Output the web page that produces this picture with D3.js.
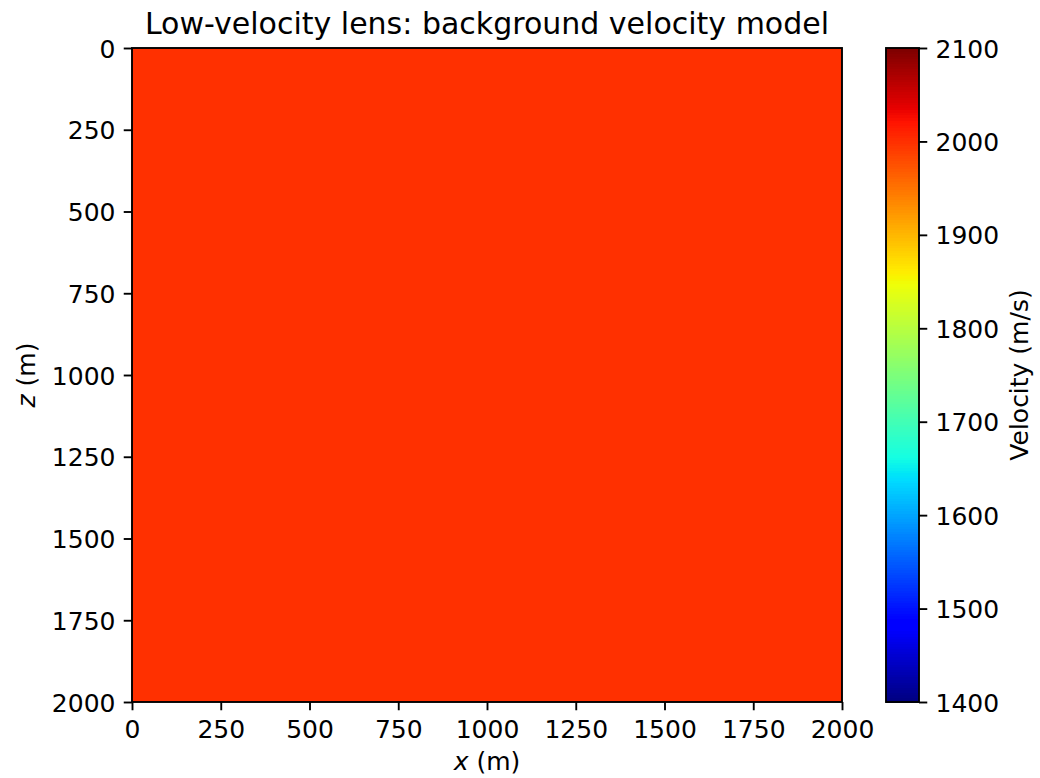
<!DOCTYPE html>
<html>
<head>
<meta charset="utf-8">
<script src="https://cdn.jsdelivr.net/npm/d3@7"></script>
<style>
  html, body { margin: 0; padding: 0; background: #fff; }
  svg text { font-family: "DejaVu Sans", sans-serif; fill: #000; }
</style>
</head>
<body>
<svg id="chart" width="1040" height="778"></svg>
<script>
// model extent (m) and velocity grid (m/s): uniform background
const xExtent = [0, 2000];
const zExtent = [0, 2000];
const xEdges = [0, 2000];
const zEdges = [0, 2000];
const velocityGrid = [[2000]];

const xTicks = [0, 250, 500, 750, 1000, 1250, 1500, 1750, 2000];
const zTicks = [0, 250, 500, 750, 1000, 1250, 1500, 1750, 2000];
const cbTicks = [1400, 1500, 1600, 1700, 1800, 1900, 2000, 2100];
const vRange = [1400, 2100];

const TITLE = "Low-velocity lens: background velocity model";

// matplotlib "jet" segment data
const jetR = [[0, 0], [0.35, 0], [0.66, 1], [0.89, 1], [1, 0.5]];
const jetG = [[0, 0], [0.125, 0], [0.375, 1], [0.64, 1], [0.91, 0], [1, 0]];
const jetB = [[0, 0.5], [0.11, 1], [0.34, 1], [0.65, 0], [1, 0]];

function seg(s) {
  return d3.scaleLinear().domain(s.map((d) => d[0])).range(s.map((d) => d[1])).clamp(true);
}
const sr = seg(jetR), sg = seg(jetG), sb = seg(jetB);

function jet(t) {
  // 256-level lookup like matplotlib
  const i = Math.max(0, Math.min(255, Math.floor(t * 256)));
  const u = i / 255;
  return d3.rgb(Math.round(sr(u) * 255), Math.round(sg(u) * 255), Math.round(sb(u) * 255)).formatHex();
}

const svg = d3.select("#chart");

const S = 2.36; // px per pt
const tickLen = 3.5 * S;
const tickPad = 3.5 * S;
const lw = 0.8 * S;
const fs = 25;
const titleFs = 30;

const plot = { l: 132, r: 842, t: 48, b: 702 };
const cb = { l: 886, r: 919, t: 48, b: 702 };

const x = d3.scaleLinear().domain(xExtent).range([plot.l, plot.r]);
const z = d3.scaleLinear().domain(zExtent).range([plot.t, plot.b]);
const norm = d3.scaleLinear().domain(vRange).range([0, 1]).clamp(true);

// image cells
const cells = [];
velocityGrid.forEach((row, j) => {
  row.forEach((v, i) => {
    cells.push({ x0: xEdges[i], x1: xEdges[i + 1], z0: zEdges[j], z1: zEdges[j + 1], v });
  });
});

svg.append("g")
  .selectAll("rect")
  .data(cells)
  .enter()
  .append("rect")
  .attr("x", (d) => x(d.x0))
  .attr("y", (d) => z(d.z0))
  .attr("width", (d) => x(d.x1) - x(d.x0))
  .attr("height", (d) => z(d.z1) - z(d.z0))
  .attr("fill", (d) => jet(norm(d.v)))
  .attr("shape-rendering", "crispEdges");

// axes
function styleAxis(g) {
  g.select(".domain").remove();
  g.selectAll(".tick line").attr("stroke", "#000").attr("stroke-width", lw);
  g.selectAll(".tick text").style("font-size", fs + "px").attr("fill", "#000");
}

svg.append("g")
  .attr("transform", `translate(0,${plot.b})`)
  .call(d3.axisBottom(x).tickValues(xTicks).tickSize(tickLen).tickPadding(tickPad).tickFormat(d3.format("d")))
  .call(styleAxis)
  .call((g) => g.selectAll(".tick text").attr("dy", null).attr("y", 36));

svg.append("g")
  .attr("transform", `translate(${plot.l},0)`)
  .call(d3.axisLeft(z).tickValues(zTicks).tickSize(tickLen).tickPadding(tickPad).tickFormat(d3.format("d")))
  .call(styleAxis)
  .call((g) => g.selectAll(".tick text").attr("dy", "0.36em"));

svg.append("rect")
  .attr("x", plot.l).attr("y", plot.t)
  .attr("width", plot.r - plot.l).attr("height", plot.b - plot.t)
  .attr("fill", "none").attr("stroke", "#000").attr("stroke-width", lw);

// title and labels
svg.append("text")
  .attr("x", (plot.l + plot.r) / 2).attr("y", 33.5)
  .attr("text-anchor", "middle")
  .style("font-size", titleFs + "px")
  .text(TITLE);

const xl = svg.append("text")
  .attr("x", (plot.l + plot.r) / 2).attr("y", 770)
  .attr("text-anchor", "middle")
  .style("font-size", fs + "px");
xl.append("tspan").style("font-style", "italic").text("x");
xl.append("tspan").text(" (m)");

const zl = svg.append("text")
  .attr("transform", `translate(35,${(plot.t + plot.b) / 2}) rotate(-90)`)
  .attr("text-anchor", "middle")
  .style("font-size", fs + "px");
zl.append("tspan").style("font-style", "italic").text("z");
zl.append("tspan").text(" (m)");

// colorbar
const cy = d3.scaleLinear().domain(vRange).range([cb.b, cb.t]);
const levels = d3.range(256);
const lh = (cb.b - cb.t) / 256;
svg.append("g")
  .attr("shape-rendering", "crispEdges")
  .selectAll("rect")
  .data(levels)
  .enter()
  .append("rect")
  .attr("x", cb.l)
  .attr("width", cb.r - cb.l)
  .attr("y", (i) => cb.b - (i + 1) * lh)
  .attr("height", lh + 1)
  .attr("fill", (i) => jet((i + 0.5) / 256));

svg.append("g")
  .attr("transform", `translate(${cb.r},0)`)
  .call(d3.axisRight(cy).tickValues(cbTicks).tickSize(tickLen).tickPadding(tickPad).tickFormat(d3.format("d")))
  .call(styleAxis)
  .call((g) => g.selectAll(".tick text").attr("dy", "0.36em"));

svg.append("rect")
  .attr("x", cb.l).attr("y", cb.t)
  .attr("width", cb.r - cb.l).attr("height", cb.b - cb.t)
  .attr("fill", "none").attr("stroke", "#000").attr("stroke-width", lw);

svg.append("text")
  .attr("transform", `translate(1028,${(cb.t + cb.b) / 2}) rotate(-90)`)
  .attr("text-anchor", "middle")
  .style("font-size", fs + "px")
  .text("Velocity (m/s)");
</script>
</body>
</html>
